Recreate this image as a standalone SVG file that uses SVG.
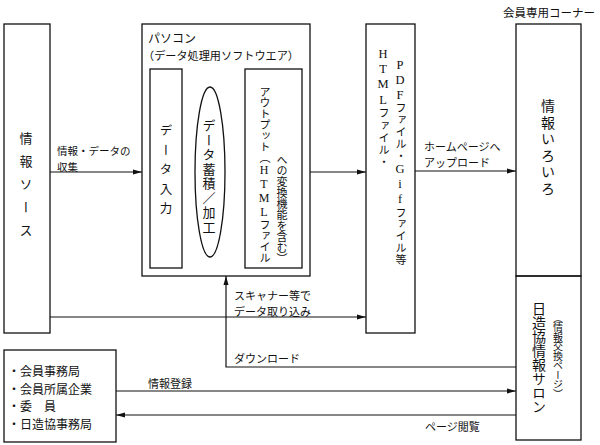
<svg xmlns="http://www.w3.org/2000/svg" width="600" height="445" viewBox="0 0 600 445">
<defs>
<style>
.box{fill:none;stroke:#111;stroke-width:1.3}
.ln{fill:none;stroke:#111;stroke-width:1.2}
text{font-family:"Noto Sans CJK JP","Noto Sans",sans-serif;fill:#111}
.ser{font-family:"Liberation Serif","Noto Sans CJK JP",serif}
.v{writing-mode:vertical-rl;text-orientation:upright}
.s11{font-size:11px}
.lat{font-size:12.5px}
</style>
<marker id="ah" markerUnits="userSpaceOnUse" markerWidth="10" markerHeight="8" refX="9" refY="3" orient="auto">
<path d="M0,0.5 L9,3 L0,5.5 z" fill="#111"/>
</marker>
</defs>
<rect width="600" height="445" fill="#fff"/>

<g id="connectors">
<line class="ln" x1="50" y1="172" x2="142" y2="172" marker-end="url(#ah)"/>
<line class="ln" x1="310" y1="172" x2="366" y2="172" marker-end="url(#ah)"/>
<line class="ln" x1="415" y1="171" x2="516" y2="171" marker-end="url(#ah)"/>
<line class="ln" x1="50" y1="317" x2="366" y2="317" marker-end="url(#ah)"/>
<polyline class="ln" points="516,367 226,367 226,276" marker-end="url(#ah)"/>
<line class="ln" x1="116" y1="391" x2="516" y2="391" marker-end="url(#ah)"/>
<line class="ln" x1="516" y1="415" x2="116" y2="415" marker-end="url(#ah)"/>
<text x="57" y="155" style="font-size:10.5px">情報・データの</text>
<text x="57" y="171" style="font-size:10.5px">収集</text>
<text class="s11" x="424" y="151">ホームページへ</text>
<text class="s11" x="424" y="167">アップロード</text>
<text class="s11" x="234" y="300">スキャナー等で</text>
<text class="s11" x="234" y="316">データ取り込み</text>
<text class="s11" x="234" y="363">ダウンロード</text>
<text class="s11" x="148" y="388">情報登録</text>
<text class="s11" x="425" y="431">ページ閲覧</text>
</g>

<g id="source">
<rect class="box" x="4" y="24" width="46" height="309"/>
<text class="v" x="26" y="132" style="font-size:13px;letter-spacing:10px">情報ソース</text>
</g>

<g id="pc">
<rect class="box" x="142" y="24" width="168" height="252"/>
<text x="148" y="43" style="font-size:12px">パソコン</text>
<text x="143" y="60" style="font-size:11px" textLength="156" lengthAdjust="spacingAndGlyphs">（データ処理用ソフトウエア）</text>
</g>

<g id="data-input">
<rect class="box" x="150" y="69" width="32" height="199"/>
<text class="v" x="166" y="124" style="font-size:12.5px;letter-spacing:7px">データ入力</text>
</g>

<g id="data-store">
<ellipse class="box" cx="210" cy="172" rx="15" ry="85"/>
<text class="v" x="209" y="119" style="font-size:13px;letter-spacing:1.5px">データ蓄積／加工</text>
</g>

<g id="output">
<rect class="box" x="245" y="69" width="57" height="199"/>
<text class="v ser" x="264" y="86" style="font-size:11px;letter-spacing:0px">アウトプット（<tspan style="font-size:12px">HTML</tspan>ファイル</text>
<text class="v" x="282" y="154" style="font-size:11px">への変換機能を含む）</text>
</g>

<g id="files">
<rect class="box" x="366" y="24" width="49" height="309"/>
<text class="v ser" x="383" y="47" style="font-size:11px;letter-spacing:1.2px"><tspan class="lat">HTML</tspan>ファイル・</text>
<text class="v ser" x="400" y="58" style="font-size:11px;letter-spacing:0.9px"><tspan class="lat">PDF</tspan>ファイル・<tspan class="lat">Gif</tspan>ファイル等</text>
</g>

<g id="info-various">
<text x="503" y="17" style="font-size:11.5px">会員専用コーナー</text>
<rect class="box" x="516" y="24" width="65" height="252"/>
<text class="v" x="548" y="99" style="font-size:14px;letter-spacing:2.5px">情報いろいろ</text>
</g>

<g id="salon">
<rect class="box" x="516" y="276" width="65" height="164"/>
<text class="v" x="539" y="302" style="font-size:14px">日造協情報サロン</text>
<text class="v" x="558" y="313" style="font-size:10px;letter-spacing:-0.5px">（情報交換ページ）</text>
</g>

<g id="members">
<rect class="box" x="4" y="350" width="112" height="92"/>
<text x="8" y="376" style="font-size:12px">・会員事務局</text>
<text x="8" y="393.5" style="font-size:12px">・会員所属企業</text>
<text x="8" y="411" style="font-size:12px">・委　員</text>
<text x="8" y="428.5" style="font-size:12px">・日造協事務局</text>
</g>
</svg>
